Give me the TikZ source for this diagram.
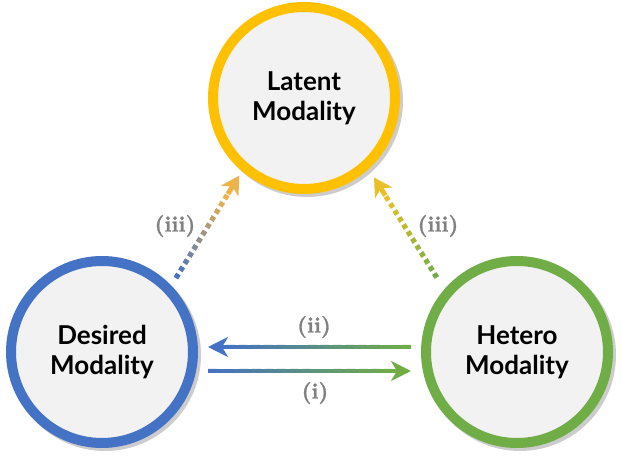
\documentclass[tikz,border=0pt]{standalone}
\usepackage{fontspec}
\usepackage{tikz}
\usetikzlibrary{arrows.meta,calc,shadows}
\newfontfamily\modfont{Lato}
\newfontfamily\stepfont[FakeBold=1.2]{lmroman10-bold.otf}

\definecolor{desiredblue}{RGB}{68,114,196}
\definecolor{heterogreen}{RGB}{112,173,71}
\definecolor{latentgold}{RGB}{255,192,0}
\definecolor{tipamber}{RGB}{238,178,72}
\definecolor{tipyellow}{RGB}{232,192,40}
\definecolor{ringfill}{RGB}{242,242,242}
\definecolor{stepgray}{RGB}{128,128,128}

\tikzset{
  modality/.style={circle, minimum size=91pt, line width=5pt, fill=ringfill,
    align=center, font=\modfont\bfseries\fontsize{13}{15}\selectfont,
    drop shadow={shadow xshift=1.5pt, shadow yshift=-1.5pt, opacity=0.2,
      draw=black, line width=5pt}},
  steplabel/.style={text=stepgray, font=\stepfont\fontsize{11}{13}\selectfont},
  solidtip/.style={-{Stealth[length=10pt,width=10pt,inset=3pt]}, line width=2pt},
  dottip/.style={-{Stealth[length=9pt,width=10pt,inset=2.5pt]}, line width=2.5pt}
}

\begin{document}
\begin{tikzpicture}[x=0.5pt,y=-0.5pt]
  \useasboundingbox (0,0) rectangle (622,459);
  \node[modality, draw=latentgold] (latent) at (304,98) {Latent\\Modality};
  \node[modality, draw=desiredblue] (desired) at (102,352) {Desired\\Modality};
  \node[modality, draw=heterogreen] (hetero) at (517,352) {Hetero\\Modality};

  % ends of the connectors
  \coordinate (dsrc) at ($(desired.45)+(6,-6)$);
  \coordinate (ldst) at ($(latent.230)+(-3,4)$);
  \coordinate (hsrc) at ($(hetero.137)+(-10,-9)$);
  \coordinate (rdst) at ($(latent.311)+(7,7)$);
  \coordinate (iiS) at ($(hetero.west)+(-10,-5)$);
  \coordinate (iiE) at ($(desired.east)+(10,-5)$);
  \coordinate (iS) at ($(desired.east)+(10,19)$);
  \coordinate (iE) at ($(hetero.west)+(-10,19)$);

  % (i) and (ii)
  \foreach \k in {0,...,29} {
    \pgfmathsetmacro\fa{\k/30*0.93}
    \pgfmathsetmacro\fb{(\k+1.4)/30*0.93}
    \pgfmathtruncatemacro\p{100-100*\k/29}
    \draw[line width=2pt, color=desiredblue!\p!heterogreen]
      ($(iS)!\fa!(iE)$) -- ($(iS)!\fb!(iE)$);
    \draw[line width=2pt, color=heterogreen!\p!desiredblue]
      ($(iiS)!\fa!(iiE)$) -- ($(iiS)!\fb!(iiE)$);
  }
  \draw[solidtip, heterogreen] ($(iS)!0.9!(iE)$) -- (iE);
  \draw[solidtip, desiredblue] ($(iiS)!0.9!(iiE)$) -- (iiE);

  % (iii)
  \foreach \k in {0,...,11} {
    \pgfmathsetmacro\fa{\k*0.07}
    \pgfmathsetmacro\fb{\k*0.07+0.04}
    \pgfmathtruncatemacro\p{100-100*\k/11}
    \draw[line width=2.6pt, color=desiredblue!\p!tipamber]
      ($(dsrc)!\fa!(ldst)$) -- ($(dsrc)!\fb!(ldst)$);
    \draw[line width=2.6pt, color=heterogreen!\p!tipyellow]
      ($(hsrc)!\fa!(rdst)$) -- ($(hsrc)!\fb!(rdst)$);
  }
  \draw[dottip, tipamber] ($(dsrc)!0.82!(ldst)$) -- (ldst);
  \draw[dottip, tipyellow] ($(hsrc)!0.82!(rdst)$) -- (rdst);

  \node[steplabel] (lblleft) at (175,226) {(iii)};
  \node[steplabel] (lblright) at (438,226) {(iii)};
  \node[steplabel] (lbltwo) at (314,327) {(ii)};
  \node[steplabel] (lblone) at (315,393) {(i)};
\end{tikzpicture}
\end{document}
